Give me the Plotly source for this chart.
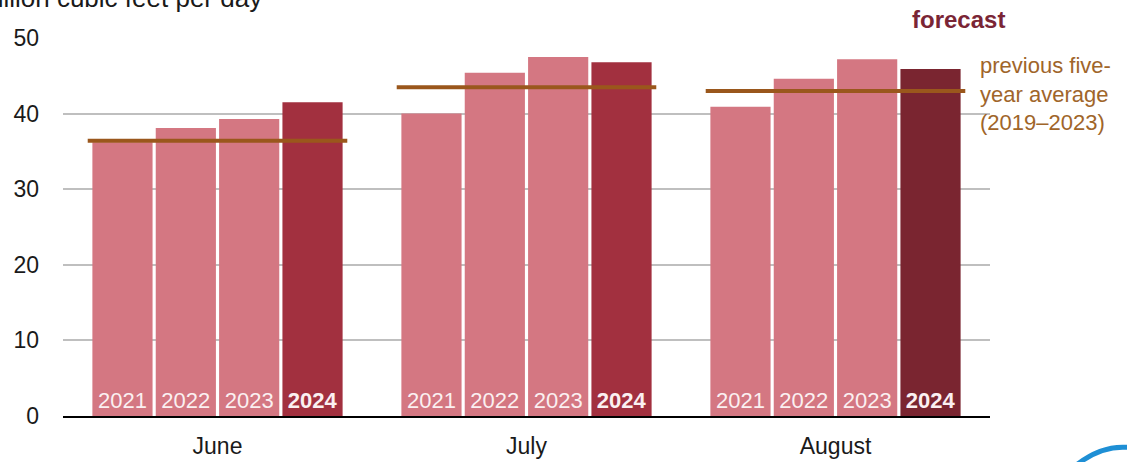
import plotly.graph_objects as go

months = ["June", "July", "August"]
years = ["2021", "2022", "2023", "2024"]
values = {
    "2021": [36.2, 40.0, 40.9],
    "2022": [38.1, 45.4, 44.6],
    "2023": [39.3, 47.5, 47.2],
    "2024": [41.5, 46.8, 45.9],
}
avg_2019_2023 = [36.4, 43.5, 43.0]
y_ticks = [0, 10, 20, 30, 40, 50]

pink = "#D47782"
colors = {
    "2021": [pink] * 3,
    "2022": [pink] * 3,
    "2023": [pink] * 3,
    "2024": ["#A2303F", "#A2303F", "#7A2530"],
}

fig = go.Figure()
for yr in years:
    label = f"<b>{yr}</b>" if yr == "2024" else yr
    fig.add_trace(go.Bar(
        x=months, y=values[yr], name=yr,
        marker=dict(color=colors[yr], line=dict(width=0)),
        text=[label] * 3, textposition="inside", insidetextanchor="start",
        textfont=dict(color="#FBF0F1", size=22, family="Liberation Sans, Arial"),
        textangle=0, cliponaxis=False,
    ))

shapes = []
for i, a in enumerate(avg_2019_2023):
    shapes.append(dict(type="line", xref="x", yref="y", x0=i - 0.42, x1=i + 0.42,
                       y0=a, y1=a, line=dict(color="#9A571C", width=4), layer="above"))
# partial logo swoosh bottom right
shapes.append(dict(type="path", xref="paper", yref="paper",
                   path="M 1.093 -0.13 Q 1.12 -0.078 1.148 -0.083",
                   line=dict(color="#1E8FD5", width=5)))

fig.update_layout(
    width=1127, height=462,
    margin=dict(l=63, r=137, t=38, b=46, autoexpand=False),
    barmode="group", bargap=0.18, bargroupgap=0.05,
    plot_bgcolor="white", paper_bgcolor="white",
    showlegend=False,
    font=dict(family="Liberation Sans, Arial", color="#1a1a1a"),
    shapes=shapes,
    uniformtext=dict(minsize=10, mode="show"),
)
fig.update_xaxes(
    showgrid=False, showline=True, linecolor="black", linewidth=2, automargin=False,
    ticks="", tickfont=dict(size=23, color="#1a1a1a"), ticklabelstandoff=8,
)
fig.update_yaxes(
    range=[0, 50], tickvals=y_ticks, showgrid=True, gridcolor="#BFBFBF", gridwidth=2,
    zeroline=False, showline=False, ticks="", automargin=False,
    tickfont=dict(size=23, color="#1a1a1a"), ticklabelstandoff=23,
)

fig.add_annotation(text="million cubic feet per day", xref="paper", yref="paper",
                   x=-89 / 927, y=1 + 40 / 378, xanchor="left", yanchor="middle",
                   showarrow=False, font=dict(size=26, color="#1a1a1a"))
fig.add_annotation(text="<b>forecast</b>", xref="paper", yref="paper",
                   x=(958 - 63) / 927, y=(416 - 19) / 378, xanchor="center", yanchor="middle",
                   showarrow=False, font=dict(size=24, color="#7A2535"))
fig.add_annotation(text="previous five-<br>year average<br>(2019\u20132023)", xref="paper", yref="paper",
                   x=(978 - 63) / 927, y=(416 - 94) / 378, xanchor="left", yanchor="middle",
                   align="left", showarrow=False, font=dict(size=22, color="#A0652A"))

fig.write_html("out.html")
